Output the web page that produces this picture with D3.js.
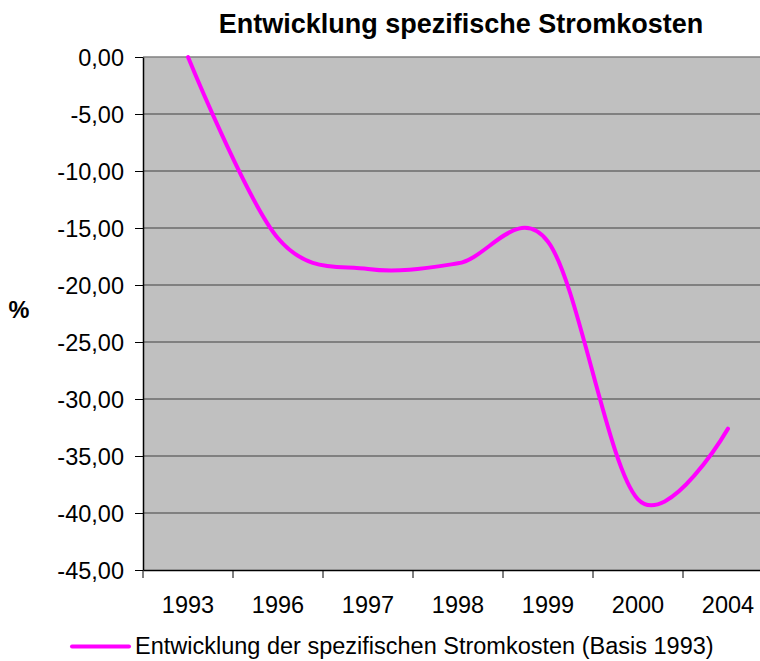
<!DOCTYPE html>
<html><head><meta charset="utf-8">
<script src="https://cdn.jsdelivr.net/npm/d3@7"></script>
<style>body{margin:0;background:#fff}svg{display:block}text{font-family:"Liberation Sans",Arial,sans-serif}</style>
</head><body>
<script>
const categories = ["1993","1996","1997","1998","1999","2000","2004"];
const values = [0, -15.9, -18.6, -18.1, -16.2, -38.8, -32.6];
const yTicks = [0,-5,-10,-15,-20,-25,-30,-35,-40,-45];
const title = "Entwicklung spezifische Stromkosten";
const seriesName = "Entwicklung der spezifischen Stromkosten (Basis 1993)";

const W = 760, H = 661;
const FS = 23.5;
const svg = d3.select("body").append("svg").attr("width", W).attr("height", H);
const L = 143, R = 773, T = 57, B = 570;
const x = d3.scaleBand().domain(categories).range([L, R]);
const y = d3.scaleLinear().domain([-45, 0]).range([B, T]);
const fmt = v => d3.format(".2f")(v).replace(".", ",").replace("−","-");

svg.append("rect").attr("x", L).attr("y", T).attr("width", R - L).attr("height", B - T).attr("fill", "#c0c0c0");
// gridlines
svg.append("g").selectAll("line").data(yTicks.filter(v => v > -45)).join("line")
  .attr("x1", L).attr("x2", R).attr("y1", d => y(d)).attr("y2", d => y(d))
  .attr("stroke", d => d === 0 ? "#808080" : "#404040").attr("stroke-width", d => d === 0 ? 1.5 : 1);

// y axis
const ya = svg.append("g").attr("transform", `translate(${L},0)`)
  .call(d3.axisLeft(y).tickValues(yTicks).tickFormat(fmt).tickSize(8).tickSizeOuter(0));
ya.attr("font-size", null).attr("font-family", null);
ya.select(".domain").attr("stroke", "#000").attr("stroke-width", 1.5);
ya.selectAll(".tick line").attr("stroke", "#000");
ya.selectAll("text").style("font-size", FS + "px").attr("fill", "#000").attr("x", -19).attr("dy", "0.35em");

// x axis
const xa = svg.append("g").attr("transform", `translate(0,${B})`)
  .call(d3.axisBottom(x).tickSize(0).tickSizeOuter(0));
xa.attr("font-size", null).attr("font-family", null);
xa.select(".domain").attr("stroke", "#000").attr("stroke-width", 1.5);
xa.selectAll("text").style("font-size", FS + "px").attr("fill", "#000").attr("y", 43).attr("dy", 0);
svg.append("g").selectAll("line").data(categories).join("line")
  .attr("x1", d => x(d)).attr("x2", d => x(d)).attr("y1", B).attr("y2", B + 8).attr("stroke", "#000");

// line
const line = d3.line().x((d, i) => x(categories[i]) + x.bandwidth() / 2).y(d => y(d))
  .curve(d3.curveCardinal.tension(0));
svg.append("path").datum(values).attr("d", line).attr("fill", "none")
  .attr("stroke", "#ff00ff").attr("stroke-width", 4).attr("stroke-linecap", "round");

// title
svg.append("text").attr("x", 461).attr("y", 33).attr("text-anchor", "middle")
  .style("font-size", "27px").attr("font-weight", "bold").text(title);
svg.append("text").attr("x", 19).attr("y", 318).attr("text-anchor", "middle")
  .style("font-size", FS + "px").attr("font-weight", "bold").text("%");

// legend
svg.append("line").attr("x1", 72).attr("x2", 129).attr("y1", 646.5).attr("y2", 646.5)
  .attr("stroke", "#ff00ff").attr("stroke-width", 4).attr("stroke-linecap", "round");
svg.append("text").attr("x", 135).attr("y", 654).style("font-size", FS + "px").text(seriesName);
</script>
</body></html>
